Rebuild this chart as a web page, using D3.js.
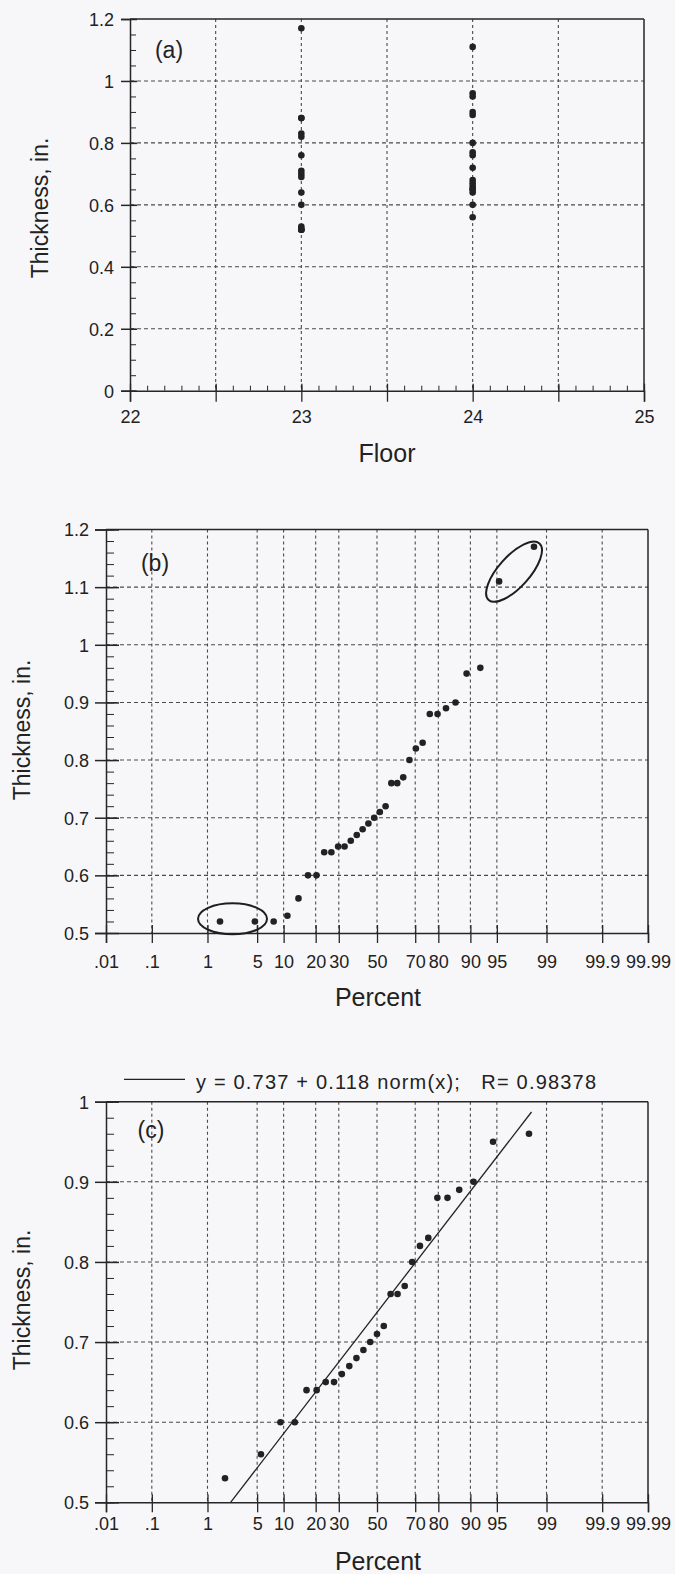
<!DOCTYPE html>
<html>
<head>
<meta charset="utf-8">
<script src="https://cdn.jsdelivr.net/npm/d3@7"></script>
<style>
  html, body { margin: 0; padding: 0; background: #f7f7fa; }
  svg { display: block; font-family: "Liberation Sans", Arial, Helvetica, sans-serif; }
  text { fill: #222; }
</style>
</head>
<body>
<svg id="fig" width="675" height="1574"></svg>
<script>
// ---------- (a) thickness by floor ----------
const floor23Thickness = [1.17, 0.88, 0.88, 0.83, 0.82, 0.76, 0.71, 0.70, 0.69, 0.64, 0.60, 0.53, 0.52, 0.52, 0.52];
const floor24Thickness = [1.11, 0.96, 0.95, 0.90, 0.89, 0.80, 0.77, 0.76, 0.72, 0.68, 0.67, 0.66, 0.65, 0.65, 0.64, 0.60, 0.56];
const floorTicks = [22, 23, 24, 25];
const floorGrid = [22.5, 23, 23.5, 24, 24.5];
const thicknessTicksA = [0, 0.2, 0.4, 0.6, 0.8, 1, 1.2];

// ---------- (b) normal probability plot, all readings ----------
const percentAll = [1.56, 4.69, 7.81, 10.94, 14.06, 17.19, 20.31, 23.44, 26.56, 29.69, 32.81, 35.94,
  39.06, 42.19, 45.31, 48.44, 51.56, 54.69, 57.81, 60.94, 64.06, 67.19, 70.31, 73.44, 76.56, 79.69,
  82.81, 85.94, 89.06, 92.19, 95.31, 98.44];
const thicknessAll = [0.52, 0.52, 0.52, 0.53, 0.56, 0.60, 0.60, 0.64, 0.64, 0.65, 0.65, 0.66,
  0.67, 0.68, 0.69, 0.70, 0.71, 0.72, 0.76, 0.76, 0.77, 0.80, 0.82, 0.83, 0.88, 0.88,
  0.89, 0.90, 0.95, 0.96, 1.11, 1.17];
// centres of the two circled groups: [percent, thickness]
const circledLow = [2.37, 0.5246];
const circledHigh = [97.0, 1.1268];

// ---------- (c) normal probability plot, circled readings removed ----------
const percentTrim = [1.85, 5.56, 9.26, 12.96, 16.67, 20.37, 24.07, 27.78, 31.48, 35.19, 38.89, 42.59,
  46.30, 50.00, 53.70, 57.41, 61.11, 64.81, 68.52, 72.22, 75.93, 79.63, 83.33, 87.04, 90.74, 94.44, 98.15];
const thicknessTrim = [0.53, 0.56, 0.60, 0.60, 0.64, 0.64, 0.65, 0.65, 0.66, 0.67, 0.68, 0.69,
  0.70, 0.71, 0.72, 0.76, 0.76, 0.77, 0.80, 0.82, 0.83, 0.88, 0.88, 0.89, 0.90, 0.95, 0.96];
const fitIntercept = 0.737;
const fitSlope = 0.118;
const fitR = 0.98378;
const fitPercentRange = [2.2, 98.3];

const percentTicks = [0.01, 0.1, 1, 5, 10, 20, 30, 50, 70, 80, 90, 95, 99, 99.9, 99.99];
const percentTickLabels = [".01", ".1", "1", "5", "10", "20", "30", "50", "70", "80", "90", "95", "99", "99.9", "99.99"];
const thicknessTicksB = [0.5, 0.6, 0.7, 0.8, 0.9, 1, 1.1, 1.2];
const thicknessTicksC = [0.5, 0.6, 0.7, 0.8, 0.9, 1];

// inverse standard normal CDF (Acklam)
function probit(p) {
  const a = [-3.969683028665376e+01, 2.209460984245205e+02, -2.759285104469687e+02, 1.383577518672690e+02, -3.066479806614716e+01, 2.506628277459239e+00];
  const b = [-5.447609879822406e+01, 1.615858368580409e+02, -1.556989798598866e+02, 6.680131188771972e+01, -1.328068155288572e+01];
  const c = [-7.784894002430293e-03, -3.223964580411365e-01, -2.400758277161838e+00, -2.549732539343734e+00, 4.374664141464968e+00, 2.938163982698783e+00];
  const d = [7.784695709041462e-03, 3.224671290700398e-01, 2.445134137142996e+00, 3.754408661907416e+00];
  const pl = 0.02425, ph = 1 - pl;
  let q, r;
  if (p < pl) {
    q = Math.sqrt(-2 * Math.log(p));
    return (((((c[0]*q+c[1])*q+c[2])*q+c[3])*q+c[4])*q+c[5]) / ((((d[0]*q+d[1])*q+d[2])*q+d[3])*q+1);
  }
  if (p <= ph) {
    q = p - 0.5; r = q * q;
    return (((((a[0]*r+a[1])*r+a[2])*r+a[3])*r+a[4])*r+a[5])*q / (((((b[0]*r+b[1])*r+b[2])*r+b[3])*r+b[4])*r+1);
  }
  q = Math.sqrt(-2 * Math.log(1 - p));
  return -(((((c[0]*q+c[1])*q+c[2])*q+c[3])*q+c[4])*q+c[5]) / ((((d[0]*q+d[1])*q+d[2])*q+d[3])*q+1);
}
const zOf = pct => probit(pct / 100);

const svg = d3.select("#fig");
svg.append("rect").attr("width", 675).attr("height", 1574).attr("fill", "#f7f7fa");

const INK = "#262626";
const GRID = "#4a4a4a";
const FONT = '"Liberation Sans", Arial, sans-serif';
const TICK_FS = 18;

function range(lo, hi, step) {
  const out = [];
  const n = Math.round((hi - lo) / step);
  for (let i = 0; i <= n; i++) out.push(+(lo + i * step).toFixed(6));
  return out;
}

// shared helpers --------------------------------------------------------
function leftAxis(g, y, x0, major, minor, fmt, outLen, inLen, minLen, labelGap) {
  const ax = g.append("g").attr("transform", `translate(${x0},0)`)
    .call(d3.axisLeft(y).tickValues(minor).tickSize(0).tickFormat(""));
  ax.select(".domain").remove();
  ax.selectAll(".tick line").attr("x1", 0).attr("x2", minLen).attr("stroke", INK).attr("stroke-width", 1);

  const am = g.append("g").attr("transform", `translate(${x0},0)`)
    .call(d3.axisLeft(y).tickValues(major).tickSize(outLen).tickPadding(labelGap - outLen).tickFormat(fmt));
  am.select(".domain").attr("stroke", INK).attr("stroke-width", 1.5);
  am.selectAll(".tick line").attr("x1", inLen).attr("stroke", INK).attr("stroke-width", 1.5);
  am.selectAll(".tick text").attr("font-size", TICK_FS).attr("fill", "#222").attr("dy", "0.36em")
    .attr("font-family", FONT);
}

function bottomAxis(g, x, y0, ticks, fmt, downLen, upLen, labelBase) {
  const ab = g.append("g").attr("transform", `translate(0,${y0})`)
    .call(d3.axisBottom(x).tickValues(ticks).tickSize(downLen).tickFormat(fmt));
  ab.select(".domain").attr("stroke", INK).attr("stroke-width", 1.5);
  ab.selectAll(".tick line").attr("y1", -upLen).attr("stroke", INK).attr("stroke-width", 1.3);
  ab.selectAll(".tick text").attr("font-size", TICK_FS).attr("fill", "#222")
    .attr("y", labelBase - y0).attr("dy", 0)
    .attr("font-family", FONT);
  return ab;
}

function frame(g, x0, x1, y0, y1) {
  g.append("line").attr("x1", x0).attr("x2", x1).attr("y1", y0).attr("y2", y0)
    .attr("stroke", INK).attr("stroke-width", 1.5);
  g.append("line").attr("x1", x1).attr("x2", x1).attr("y1", y0).attr("y2", y1)
    .attr("stroke", INK).attr("stroke-width", 1.5);
}

function vGrid(g, xs, y0, y1) {
  g.append("g").selectAll("line").data(xs).join("line")
    .attr("x1", d => d).attr("x2", d => d).attr("y1", y0).attr("y2", y1)
    .attr("stroke", GRID).attr("stroke-width", 1.1).attr("stroke-dasharray", "3,3");
}
function hGrid(g, ys, x0, x1) {
  g.append("g").selectAll("line").data(ys).join("line")
    .attr("x1", x0).attr("x2", x1).attr("y1", d => d).attr("y2", d => d)
    .attr("stroke", GRID).attr("stroke-width", 1.1).attr("stroke-dasharray", "4,3");
}

function yTitle(cx, cy) {
  svg.append("text").attr("transform", `translate(${cx},${cy}) rotate(-90)`)
    .attr("text-anchor", "middle").attr("dy", "0.36em").attr("font-size", 23)
    .text("Thickness, in.");
}
function xTitle(cx, base, label) {
  svg.append("text").attr("x", cx).attr("y", base).attr("text-anchor", "middle")
    .attr("font-size", 25).text(label);
}
function tag(cx, base, label) {
  svg.append("text").attr("x", cx).attr("y", base).attr("text-anchor", "middle")
    .attr("font-size", 23).text(label);
}

// ---------- panel (a) ----------
{
  const x = d3.scaleLinear().domain([22, 25]).range([130, 644]);
  const y = d3.scaleLinear().domain([0, 1.2]).range([390.7, 19]);
  const g = svg.append("g");
  vGrid(g, floorGrid.map(x), y(1.2), y(0));
  hGrid(g, thicknessTicksA.filter(v => v > 0 && v < 1.2).map(y), x(22), x(25));
  frame(g, x(22), x(25), y(1.2), y(0));

  // x axis: half-floor majors, 0.1 minors pointing up
  const minorX = g.append("g").attr("transform", `translate(0,${y(0)})`)
    .call(d3.axisBottom(x).tickValues(range(22, 25, 0.1)).tickSize(0).tickFormat(""));
  minorX.select(".domain").remove();
  minorX.selectAll(".tick line").attr("y1", 0).attr("y2", -5).attr("stroke", INK).attr("stroke-width", 1);
  bottomAxis(g, x, y(0), range(22, 25, 0.5),
    d => (floorTicks.includes(d) ? d3.format("d")(d) : ""), 11, 7, 423);

  leftAxis(g, y, x(22), thicknessTicksA, range(0, 1.2, 0.05), d3.format("~g"), 9, 7, 6, 16);

  g.selectAll("circle.f23").data(floor23Thickness).join("circle").attr("class", "f23")
    .attr("cx", x(23)).attr("cy", d => y(d)).attr("r", 3.3).attr("fill", "#222");
  g.selectAll("circle.f24").data(floor24Thickness).join("circle").attr("class", "f24")
    .attr("cx", x(24)).attr("cy", d => y(d)).attr("r", 3.3).attr("fill", "#222");

  tag(169, 58, "(a)");
  yTitle(40, 208);
  xTitle(387, 462, "Floor");
}

// ---------- probability-axis panels ----------
const zDomain = [probit(0.0001), probit(0.9999)];

function probPanel(opts) {
  const x = d3.scaleLinear().domain(zDomain).range([106, 648]);
  const y = d3.scaleLinear().domain(opts.yDomain).range(opts.yRange);
  const g = svg.append("g");
  const zTicks = percentTicks.map(zOf);
  vGrid(g, zTicks.slice(1, -1).map(x), y(opts.yDomain[1]), y(opts.yDomain[0]));
  hGrid(g, opts.yTicks.slice(1, -1).map(y), x(zDomain[0]), x(zDomain[1]));
  frame(g, x(zDomain[0]), x(zDomain[1]), y(opts.yDomain[1]), y(opts.yDomain[0]));

  bottomAxis(g, x, y(opts.yDomain[0]), zTicks, (d, i) => percentTickLabels[i], 10, 8, opts.labelBase);
  leftAxis(g, y, x(zDomain[0]), opts.yTicks, range(opts.yDomain[0], opts.yDomain[1], 0.02),
    d3.format("~g"), 11, 13, 8, 17);
  return { g, x, y };
}

// ---------- panel (b) ----------
{
  const { g, x, y } = probPanel({
    yDomain: [0.5, 1.2], yRange: [933, 529.5], yTicks: thicknessTicksB,
    labelBase: 968
  });
  g.selectAll("circle.pt").data(thicknessAll).join("circle").attr("class", "pt")
    .attr("cx", (d, i) => x(zOf(percentAll[i]))).attr("cy", d => y(d))
    .attr("r", 3.3).attr("fill", "#222");

  g.append("ellipse")
    .attr("cx", x(zOf(circledLow[0]))).attr("cy", y(circledLow[1]))
    .attr("rx", 34.5).attr("ry", 15.5)
    .attr("fill", "none").attr("stroke", "#1e1e1e").attr("stroke-width", 2);
  g.append("ellipse")
    .attr("transform", `translate(${x(zOf(circledHigh[0]))},${y(circledHigh[1])}) rotate(-48)`)
    .attr("rx", 38).attr("ry", 15.5)
    .attr("fill", "none").attr("stroke", "#1e1e1e").attr("stroke-width", 2);

  tag(155, 571, "(b)");
  yTitle(22, 730);
  xTitle(378, 1006, "Percent");
}

// ---------- panel (c) ----------
{
  const { g, x, y } = probPanel({
    yDomain: [0.5, 1.0], yRange: [1502.3, 1101.7], yTicks: thicknessTicksC,
    labelBase: 1530
  });
  const clipId = "clipC";
  svg.append("defs").append("clipPath").attr("id", clipId)
    .append("rect").attr("x", x(zDomain[0])).attr("y", y(1.0))
    .attr("width", x(zDomain[1]) - x(zDomain[0])).attr("height", y(0.5) - y(1.0));

  const zFit = fitPercentRange.map(zOf);
  const line = d3.line().x(d => x(d)).y(d => y(fitIntercept + fitSlope * d));
  g.append("path").datum(zFit).attr("d", line).attr("clip-path", `url(#${clipId})`)
    .attr("fill", "none").attr("stroke", "#222").attr("stroke-width", 1.3);

  g.selectAll("circle.pt").data(thicknessTrim).join("circle").attr("class", "pt")
    .attr("cx", (d, i) => x(zOf(percentTrim[i]))).attr("cy", d => y(d))
    .attr("r", 3.3).attr("fill", "#222");

  // legend: sample line and fit equation
  svg.append("line").attr("x1", 124).attr("x2", 185).attr("y1", 1079.3).attr("y2", 1079.3)
    .attr("stroke", "#222").attr("stroke-width", 1.3);
  svg.append("text").attr("x", 196).attr("y", 1088.5).attr("font-size", 20)
    .attr("textLength", 400).attr("lengthAdjust", "spacing")
    .style("white-space", "pre")
    .text(`y = ${fitIntercept} + ${fitSlope} norm(x);   R= ${fitR}`);

  tag(151, 1138, "(c)");
  yTitle(22, 1300);
  xTitle(378, 1570, "Percent");
}
</script>
</body>
</html>
